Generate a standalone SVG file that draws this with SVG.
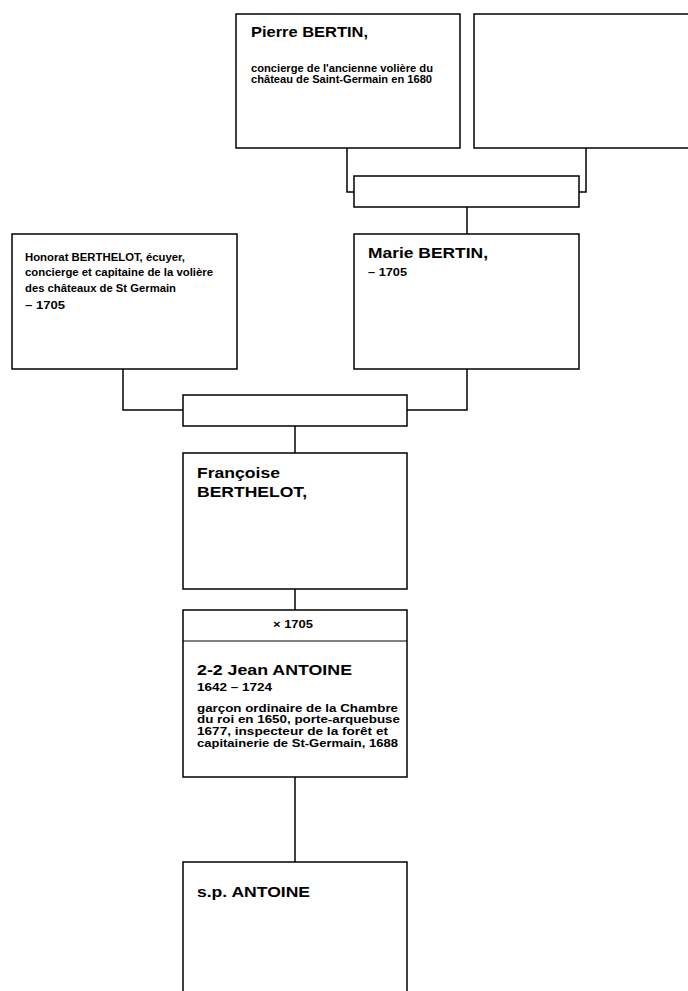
<svg xmlns="http://www.w3.org/2000/svg" width="688" height="991" viewBox="0 0 688 991">
<style>
rect.box{fill:#fff;stroke:#000;stroke-width:1.5}
.conn path{fill:none;stroke:#000;stroke-width:1.5}
text{font-family:"Liberation Sans",Arial,sans-serif;font-weight:bold;fill:#000}
.big{font-size:15px}
.small{font-size:10px}
.mid{font-size:11.5px}
</style>
<rect width="688" height="991" fill="#fff"/>
<g class="conn">
<path d="M347,148 V192 H354"/>
<path d="M586,148 V192 H579"/>
<path d="M467,207 V234"/>
<path d="M123,369 V410 H183"/>
<path d="M467,369 V410 H407"/>
<path d="M295,426 V453"/>
<path d="M295,589 V610"/>
<path d="M295,777 V862"/>
</g>
<g id="pierre">
<rect class="box" x="236" y="14" width="224" height="134"/>
<text class="big" x="251" y="37" textLength="117" lengthAdjust="spacingAndGlyphs">Pierre BERTIN,</text>
<text class="small" x="251" y="72" textLength="182" lengthAdjust="spacingAndGlyphs">concierge de l'ancienne volière du</text>
<text class="small" x="251" y="83" textLength="181" lengthAdjust="spacingAndGlyphs">château de Saint-Germain en 1680</text>
</g>
<g id="unknown">
<rect class="box" x="474" y="14" width="220" height="134"/>
</g>
<g id="union1">
<rect class="box" x="354" y="176" width="225" height="31"/>
</g>
<g id="honorat">
<rect class="box" x="12" y="234" width="225" height="135"/>
<text class="small" x="25" y="261" textLength="160" lengthAdjust="spacingAndGlyphs">Honorat BERTHELOT, écuyer,</text>
<text class="small" x="25" y="276" textLength="188" lengthAdjust="spacingAndGlyphs">concierge et capitaine de la volière</text>
<text class="small" x="25" y="292" textLength="151" lengthAdjust="spacingAndGlyphs">des châteaux de St Germain</text>
<text class="small" x="25" y="309" textLength="40" lengthAdjust="spacingAndGlyphs">– 1705</text>
</g>
<g id="marie">
<rect class="box" x="354" y="234" width="225" height="135"/>
<text class="big" x="368" y="258" textLength="120" lengthAdjust="spacingAndGlyphs">Marie BERTIN,</text>
<text class="small" x="368" y="276" textLength="39" lengthAdjust="spacingAndGlyphs">– 1705</text>
</g>
<g id="union2">
<rect class="box" x="183" y="395" width="224" height="31"/>
</g>
<g id="francoise">
<rect class="box" x="183" y="453" width="224" height="136"/>
<text class="big" x="197" y="478" textLength="83" lengthAdjust="spacingAndGlyphs">Françoise</text>
<text class="big" x="197" y="497" textLength="110" lengthAdjust="spacingAndGlyphs">BERTHELOT,</text>
</g>
<g id="jean">
<rect class="box" x="183" y="610" width="224" height="167"/>
<path d="M183,641 H407" stroke="#000" stroke-width="1"/>
<text class="small" x="273" y="628" textLength="40" lengthAdjust="spacingAndGlyphs">× 1705</text>
<text class="big" x="197" y="675" textLength="155" lengthAdjust="spacingAndGlyphs">2-2 Jean ANTOINE</text>
<text class="small" x="197" y="691" textLength="75" lengthAdjust="spacingAndGlyphs">1642 – 1724</text>
<text class="mid" x="197" y="712" textLength="201" lengthAdjust="spacingAndGlyphs">garçon ordinaire de la Chambre</text>
<text class="mid" x="197" y="723" textLength="203" lengthAdjust="spacingAndGlyphs">du roi en 1650, porte-arquebuse</text>
<text class="mid" x="197" y="735" textLength="191" lengthAdjust="spacingAndGlyphs">1677, inspecteur de la forêt et</text>
<text class="mid" x="197" y="747" textLength="201" lengthAdjust="spacingAndGlyphs">capitainerie de St-Germain, 1688</text>
</g>
<g id="sp">
<rect class="box" x="183" y="862" width="224" height="140"/>
<text class="big" x="197" y="897" textLength="113" lengthAdjust="spacingAndGlyphs">s.p. ANTOINE</text>
</g>
</svg>
